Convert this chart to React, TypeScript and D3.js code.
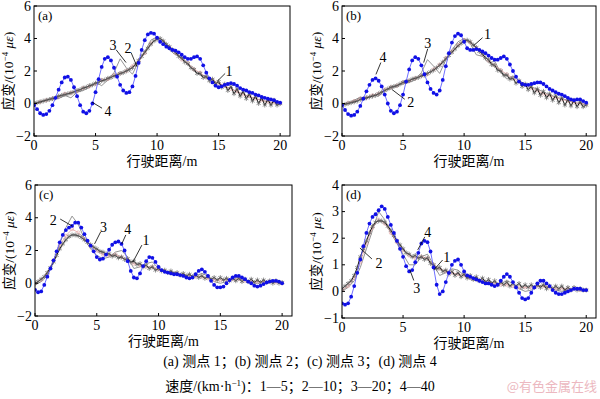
import * as d3 from 'd3';

// sampling grids (m)
const distFine = d3.range(81).map(i => i * 0.25);
const distCoarse = d3.range(41).map(i => i * 0.5);

// (a) 测点 1
const a1 = [0.0,0.05,0.1,0.15,0.2,0.25,0.3,0.35,0.45,0.5,0.55,0.6,0.65,0.72,0.8,0.85,0.95,1.0,1.1,1.15,1.25,1.3,1.4,1.45,1.55,1.6,1.7,1.75,1.85,1.9,2.0,2.1,2.2,2.4,2.65,2.9,3.15,3.4,3.65,3.85,3.95,4.0,3.85,3.65,3.5,3.3,3.15,2.9,2.8,2.55,2.45,2.2,2.1,1.85,1.85,1.6,1.65,1.4,1.5,1.2,1.35,1.0,1.2,0.8,1.05,0.6,0.9,0.45,0.75,0.3,0.6,0.15,0.45,0.0,0.35,-0.1,0.25,-0.1,0.2,-0.1,0.0];
const a2 = [-0.05,0.1,0.2,0.3,0.4,0.6,0.65,0.75,0.95,1.05,1.2,1.45,1.5,1.75,1.85,2.0,2.3,2.6,3.1,3.7,4.0,3.8,3.45,3.1,2.7,2.5,2.1,1.9,1.6,1.45,1.25,1.1,0.9,0.75,0.55,0.45,0.3,0.2,0.1,0.05,0.0];
const a3 = [0.0,0.05,0.2,0.35,0.3,0.5,0.35,0.7,0.8,1.0,1.3,1.1,1.45,1.9,2.75,2.2,1.8,2.6,3.2,3.9,4.1,3.9,3.3,3.0,2.9,2.4,2.0,1.75,1.7,1.4,1.25,1.0,0.95,0.7,0.6,0.4,0.3,0.2,0.1,0.05,0.0];
const a4 = [-0.1,-0.35,-0.6,-0.7,-0.65,-0.45,-0.1,0.35,0.85,1.3,1.6,1.65,1.45,1.0,0.45,-0.1,-0.5,-0.6,-0.45,0.0,0.7,1.5,2.25,2.75,2.85,2.65,2.2,1.65,1.15,0.8,0.65,0.7,1.05,1.7,2.5,3.3,3.9,4.25,4.35,4.3,4.05,3.8,3.65,3.5,3.4,3.3,3.25,3.15,3.0,2.85,2.75,2.75,2.85,2.9,2.75,2.35,1.9,1.55,1.3,1.1,1.0,1.05,1.15,1.2,1.25,1.2,1.1,0.95,0.85,0.8,0.7,0.65,0.55,0.5,0.4,0.35,0.3,0.25,0.2,0.1,0.05];

// (b) 测点 2
const b1 = [-0.1,-0.05,0.0,0.05,0.1,0.15,0.25,0.3,0.35,0.4,0.45,0.5,0.6,0.7,0.8,0.9,1.0,1.05,1.1,1.2,1.3,1.35,1.4,1.5,1.55,1.6,1.7,1.75,1.85,1.95,2.05,2.2,2.35,2.55,2.75,2.95,3.15,3.35,3.55,3.7,3.85,3.9,3.8,3.6,3.45,3.2,3.05,2.8,2.7,2.4,2.35,2.05,2.0,1.75,1.75,1.5,1.55,1.25,1.4,1.05,1.2,0.85,1.05,0.65,0.9,0.5,0.75,0.35,0.6,0.2,0.5,0.05,0.35,-0.1,0.25,-0.15,0.2,-0.2,0.1,-0.2,-0.1];
const b2 = [-0.1,0.05,0.15,0.3,0.35,0.5,0.6,0.85,1.0,1.1,1.3,1.4,1.55,1.7,1.8,2.1,2.4,2.8,3.2,3.6,3.9,3.75,3.4,3.0,2.65,2.35,2.05,1.8,1.55,1.35,1.15,0.95,0.8,0.6,0.5,0.35,0.25,0.15,0.05,0.0,-0.05];
const b3 = [0.0,0.0,0.2,0.4,0.3,0.55,0.45,0.8,0.9,1.1,1.2,1.3,1.45,1.9,2.7,2.3,1.85,2.7,3.3,3.8,4.0,3.7,3.0,2.9,2.5,2.6,1.9,1.5,1.7,1.4,1.2,1.0,0.9,0.7,0.55,0.4,0.3,0.2,0.05,0.0,-0.05];
const b4 = [-0.1,-0.4,-0.65,-0.75,-0.7,-0.5,-0.15,0.3,0.75,1.15,1.45,1.55,1.4,1.05,0.55,0.0,-0.45,-0.6,-0.5,-0.1,0.55,1.35,2.1,2.65,2.85,2.75,2.35,1.8,1.3,0.9,0.65,0.55,0.8,1.45,2.3,3.1,3.75,4.15,4.3,4.2,3.8,3.4,3.3,3.3,3.35,3.3,3.2,3.1,2.95,2.8,2.7,2.7,2.8,2.9,2.75,2.4,2.0,1.65,1.35,1.2,1.15,1.15,1.2,1.25,1.3,1.3,1.2,1.05,0.9,0.8,0.7,0.6,0.55,0.45,0.35,0.25,0.2,0.25,0.25,0.15,0.05];

// (c) 测点 3
const c1 = [0.0,0.1,0.25,0.4,0.65,0.95,1.3,1.7,2.1,2.4,2.65,2.85,2.95,2.95,2.9,2.8,2.65,2.5,2.35,2.2,2.1,1.95,1.9,1.8,1.8,1.65,1.7,1.55,1.6,1.45,1.5,1.3,1.35,1.15,1.2,1.0,1.1,0.9,1.0,0.8,0.9,0.75,0.8,0.65,0.75,0.6,0.65,0.5,0.6,0.45,0.55,0.4,0.5,0.35,0.45,0.3,0.4,0.25,0.35,0.2,0.35,0.2,0.3,0.15,0.3,0.15,0.3,0.1,0.25,0.1,0.25,0.05,0.2,0.05,0.2,0.05,0.15,0.0,0.15,0.0,0.05];
const c2 = [0.0,0.2,0.6,1.4,2.3,2.9,3.3,3.1,2.7,2.3,2.0,1.75,1.7,1.75,1.6,1.4,1.2,1.1,1.0,1.0,0.85,0.75,0.65,0.6,0.5,0.45,0.4,0.4,0.3,0.2,0.2,0.2,0.25,0.25,0.15,0.1,0.1,0.1,0.1,0.05,0.0];
const c3 = [-0.1,0.1,0.5,1.3,2.4,3.4,4.1,3.6,2.7,2.1,1.7,1.5,1.6,1.9,2.0,1.6,0.9,1.0,1.2,1.3,0.9,0.7,0.6,0.55,0.45,0.35,0.45,0.6,0.45,0.1,0.0,0.1,0.3,0.35,0.2,0.05,0.0,0.05,0.1,0.1,0.0];
const c4 = [-0.4,-0.55,-0.5,-0.1,0.4,0.9,1.4,1.95,2.5,2.95,3.25,3.4,3.5,3.7,3.7,3.4,3.0,2.6,2.3,1.95,1.6,1.45,1.5,1.75,2.05,2.35,2.5,2.55,2.4,2.0,1.35,0.75,0.35,0.3,0.6,1.05,1.35,1.6,1.55,1.3,1.0,0.8,0.7,0.65,0.6,0.55,0.55,0.5,0.45,0.35,0.3,0.35,0.55,0.75,0.85,0.7,0.45,0.15,-0.1,-0.25,-0.25,-0.2,0.0,0.2,0.35,0.45,0.45,0.35,0.25,0.1,0.0,-0.15,-0.2,-0.15,-0.05,0.05,0.1,0.15,0.15,0.1,0.0];

// (d) 测点 4
const d1 = [0.1,0.2,0.3,0.4,0.6,0.9,1.3,1.6,1.9,2.2,2.45,2.6,2.65,2.65,2.6,2.45,2.3,2.1,1.9,1.75,1.6,1.45,1.4,1.3,1.35,1.25,1.3,1.2,1.25,1.05,1.0,0.85,0.9,0.75,0.8,0.65,0.75,0.6,0.7,0.55,0.65,0.5,0.6,0.45,0.55,0.4,0.5,0.35,0.45,0.3,0.4,0.25,0.35,0.25,0.35,0.2,0.3,0.2,0.3,0.15,0.25,0.15,0.25,0.15,0.25,0.15,0.25,0.1,0.2,0.1,0.2,0.1,0.2,0.05,0.15,0.05,0.15,0.05,0.1,0.05,0.05];
const d2 = [0.05,0.2,0.5,1.1,1.8,2.4,2.7,2.55,2.2,1.85,1.55,1.35,1.25,1.3,1.25,1.0,0.85,0.75,0.7,0.65,0.6,0.5,0.45,0.4,0.35,0.3,0.25,0.25,0.2,0.15,0.15,0.15,0.2,0.2,0.15,0.1,0.1,0.1,0.1,0.05,0.05];
const d3s = [0.0,0.15,0.4,0.9,1.6,2.3,3.0,2.7,2.2,1.8,1.4,1.0,1.0,1.3,1.4,1.0,0.6,0.7,0.85,0.8,0.6,0.45,0.4,0.35,0.3,0.2,0.3,0.4,0.3,0.1,0.0,0.05,0.2,0.25,0.15,0.05,0.0,0.05,0.1,0.05,0.0];
const d4 = [-0.45,-0.5,-0.45,-0.2,0.2,0.7,1.2,1.7,2.2,2.55,2.8,2.9,3.05,3.2,3.1,2.8,2.5,2.2,1.9,1.6,1.3,0.95,0.75,0.8,1.1,1.45,1.8,1.9,1.85,1.5,0.9,0.25,-0.1,0.0,0.35,0.7,1.0,1.15,1.2,1.0,0.75,0.6,0.55,0.5,0.45,0.4,0.35,0.3,0.3,0.25,0.2,0.25,0.4,0.55,0.65,0.55,0.35,0.15,-0.05,-0.25,-0.3,-0.25,-0.05,0.15,0.3,0.4,0.4,0.3,0.2,0.05,-0.05,-0.1,-0.1,-0.05,0.0,0.05,0.1,0.1,0.1,0.05,0.05];

// leader labels: [label, textX, textY, lineX1, lineY1, lineX2, lineY2] in data units
const notesA = [['3',6.42,3.62,6.67,3.31,7.48,2.52],['2',7.64,3.44,7.89,3.13,8.37,2.27],['4',6.02,-0.47,5.53,-0.29,4.72,0.08],['1',15.85,2.03,15.53,1.85,14.88,1.36]];
const notesB = [['1',11.92,4.29,11.51,4.05,10.78,3.56],['3',7.02,3.74,7.02,3.37,6.69,2.52],['4',3.35,2.89,3.18,2.52,2.78,1.79],['2',5.63,0.08,5.14,0.26,4.08,0.87]];
const notesC = [['2',1.47,3.86,2.04,3.92,3.02,3.49],['3',5.55,3.44,5.31,3.13,4.82,2.4],['4',7.51,3.31,7.35,2.95,7.02,2.4],['1',8.98,2.64,8.65,2.33,7.92,1.29]];
const notesD = [['4',7.02,2.23,6.78,2.05,6.2,1.56],['1',8.57,1.29,8.24,1.18,7.51,0.8],['2',3.02,1.07,2.45,1.22,1.47,1.63],['3',6.12,0.14,5.88,0.41,5.55,0.82]];

const xTicks = [0, 5, 10, 15, 20];
const caption1 = '(a) 测点 1；(b) 测点 2；(c) 测点 3；(d) 测点 4';

const panels = [
  { tag: '(a)', s1: a1, s2: a2, s3: a3, s4: a4, notes: notesA, yDom: [-2, 6], yTicks: [-2, 0, 2, 4, 6], left: 34, right: 290, top: 6, bottom: 136 },
  { tag: '(b)', s1: b1, s2: b2, s3: b3, s4: b4, notes: notesB, yDom: [-2, 6], yTicks: [-2, 0, 2, 4, 6], left: 342, right: 596, top: 6, bottom: 136 },
  { tag: '(c)', s1: c1, s2: c2, s3: c3, s4: c4, notes: notesC, yDom: [-2, 6], yTicks: [-2, 0, 2, 4, 6], left: 35, right: 292, top: 185, bottom: 316 },
  { tag: '(d)', s1: d1, s2: d2, s3: d3s, s4: d4, notes: notesD, yDom: [-1, 4], yTicks: [-1, 0, 1, 2, 3, 4], left: 342, right: 596, top: 185, bottom: 318 },
];

const serif = '"Liberation Serif", "Times New Roman", "Noto Sans CJK SC", serif';
const fmt = (v: number) => (v < 0 ? '\u2212' + Math.abs(v) : String(v));
const star = d3.symbol(d3.symbolAsterisk, 16)();

function Panel({ p, idx }: any) {
  const x = d3.scaleLinear().domain([0, 20.8]).range([p.left, p.right]);
  const y = d3.scaleLinear().domain(p.yDom).range([p.bottom, p.top]);
  const mk = (xs: number[], ys: number[]) =>
    d3.line<number>().x((_, i) => x(xs[i])).y(v => y(v))(ys) || '';
  const clip = `clip${idx}`;
  const midX = (p.left + p.right) / 2;
  const midY = (p.top + p.bottom) / 2;
  return (
    <g>
      <clipPath id={clip}>
        <rect x={p.left} y={p.top} width={p.right - p.left} height={p.bottom - p.top} />
      </clipPath>
      <g clipPath={`url(#${clip})`}>
        <path d={mk(distCoarse, p.s3)} fill="none" stroke="#7a7a7a" strokeWidth={0.8} />
        <path d={mk(distCoarse, p.s2)} fill="none" stroke="#e79a9a" strokeWidth={0.7} />
        {p.s2.map((v: number, i: number) => (
          <circle key={'c' + i} cx={x(distCoarse[i])} cy={y(v)} r={1.6} fill="none" stroke="#e3a3a3" strokeWidth={0.6} />
        ))}
        <path d={mk(distFine, p.s1)} fill="none" stroke="#111" strokeWidth={1} />
        {p.s1.map((v: number, i: number) => (
          <path key={'s' + i} d={star} transform={`translate(${x(distFine[i])},${y(v)})`} fill="none" stroke="#666" strokeWidth={0.7} />
        ))}
        <path d={mk(distFine, p.s4)} fill="none" stroke="#4a4aff" strokeWidth={0.8} />
        {p.s4.map((v: number, i: number) => (
          <circle key={'b' + i} cx={x(distFine[i])} cy={y(v)} r={1.9} fill="#1010e6" />
        ))}
      </g>
      <rect x={p.left} y={p.top} width={p.right - p.left} height={p.bottom - p.top} fill="none" stroke="#000" strokeWidth={1} />
      {xTicks.map(t => (
        <g key={'x' + t}>
          <line x1={x(t)} x2={x(t)} y1={p.bottom} y2={p.bottom - 3} stroke="#000" />
          <text x={x(t)} y={p.bottom + 14} textAnchor="middle" fontSize={14} fontFamily={serif}>{t}</text>
        </g>
      ))}
      {p.yTicks.map((t: number) => (
        <g key={'y' + t}>
          <line x1={p.left} x2={p.left + 3} y1={y(t)} y2={y(t)} stroke="#000" />
          <text x={p.left - 3} y={y(t) + 4.5} textAnchor="end" fontSize={14} fontFamily={serif}>{fmt(t)}</text>
        </g>
      ))}
      <text x={p.left + 4} y={p.top + 14} fontSize={13} fontFamily={serif}>{p.tag}</text>
      <text x={midX} y={p.bottom + 30} textAnchor="middle" fontSize={14} fontFamily={serif}>行驶距离/m</text>
      <text transform={`translate(${p.left - 21},${midY}) rotate(-90)`} textAnchor="middle" fontSize={13.5} fontFamily={serif}>
        应变/(10<tspan dy={-5} fontSize={9}>−4</tspan><tspan dy={5}> </tspan><tspan fontStyle="italic">με</tspan>)
      </text>
      {p.notes.map((n: any, i: number) => (
        <g key={'n' + i}>
          <line x1={x(n[3])} y1={y(n[4])} x2={x(n[5])} y2={y(n[6])} stroke="#000" strokeWidth={0.8} />
          <text x={x(n[1])} y={y(n[2]) + 5} textAnchor="middle" fontSize={14} fontFamily={serif}>{n[0]}</text>
        </g>
      ))}
    </g>
  );
}

export default function App() {
  return (
    <svg width={600} height={399} style={{ position: 'absolute', left: 0, top: 0, background: '#fff' }}>
      {panels.map((p, i) => <Panel key={i} p={p} idx={i} />)}
      <text x={300} y={366} textAnchor="middle" fontSize={14} fontFamily={serif}>{caption1}</text>
      <text x={300} y={391} textAnchor="middle" fontSize={14} fontFamily={serif}>
        速度/(km·h<tspan dy={-5} fontSize={9}>−1</tspan><tspan dy={5}>)：1—5；2—10；3—20；4—40</tspan>
      </text>
      <text x={597} y={391} textAnchor="end" fontSize={13} fill="#ecb8c0" fontFamily='"Noto Sans CJK SC", sans-serif'>@有色金属在线</text>
    </svg>
  );
}
